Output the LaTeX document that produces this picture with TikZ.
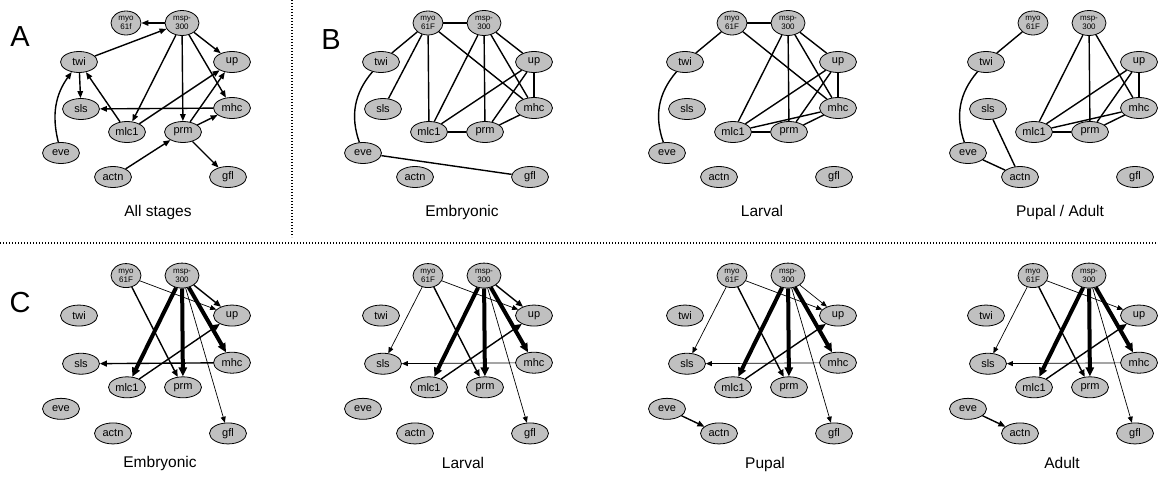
\documentclass[tikz,border=0pt]{standalone}
\usepackage{fontspec}
\setmainfont{Liberation Sans}
\usetikzlibrary{shapes.geometric,arrows.meta}
\definecolor{nodegray}{HTML}{C0C0C0}
\tikzset{
 gn/.style={ellipse, draw, fill=nodegray, line width=0.8pt, minimum width=37pt, minimum height=21pt, inner sep=0pt, font=\fontsize{11}{12}\selectfont},
 gs/.style={gn, minimum width=30pt, minimum height=24pt, align=center, font=\fontsize{8}{9}\selectfont},
 ue/.style={line width=1.4pt},
 dbl/.style={line width=2.4pt},
 de/.style={line width=1.4pt, -{Triangle[length=7pt,width=5.5pt]}},
 thn/.style={line width=0.7pt, -{Triangle[length=6pt,width=5pt]}},
 med/.style={line width=1.4pt, -{Triangle[length=7pt,width=6pt]}},
 thk/.style={line width=4pt, -{Triangle[length=9pt,width=8pt]}},
 panel/.style={font=\fontsize{29}{31}\selectfont},
 stage/.style={font=\fontsize{15.5}{17}\selectfont, anchor=base},
 sep/.style={line width=1.4pt, dash pattern=on 1.4pt off 1.6pt}
}
\newcommand\mknodes[2]{%
 \node[gs] (#1myo) at (126,23) {myo\\#2};
 \node[gs, minimum width=34pt, minimum height=25pt] (#1msp) at (182,23) {msp-\\300};
 \node[gn] (#1twi) at (79,62) {twi};
 \node[gn] (#1up) at (232,62) {up};
 \node[gn] (#1sls) at (81,109) {sls};
 \node[gn] (#1mhc) at (232,108) {mhc};
 \node[gn] (#1mlc1) at (127,132) {mlc1};
 \node[gn] (#1prm) at (183,132) {prm};
 \node[gn] (#1eve) at (61,153) {eve};
 \node[gn] (#1actn) at (113,177) {actn};
 \node[gn] (#1gfl) at (228,177) {gfl};
}
\begin{document}
\begin{tikzpicture}[x=1pt,y=-1pt]
\useasboundingbox (0,0) rectangle (1158,480);
% separators
\draw[sep] (292,0) -- (292,237);
\draw[sep] (0,243) -- (1158,243);
% panel letters
\node[panel] (labA) at (20,37) {A};
\node[panel] (labB) at (331,40) {B};
\node[panel] (labC) at (20,303) {C};
% ---------- A ----------
\begin{scope}
 \mknodes{a}{61f}
 \draw[de] (amsp) -- (amyo);
 \draw[de] (atwi) -- (amsp);
 \draw[de] (amsp) -- (aup);
 \draw[de] (amsp) -- (amhc);
 \draw[de] (amsp) -- (amlc1);
 \draw[de] (amsp) -- (aprm);
 \draw[de] (atwi) -- (asls);
 \draw[de] (amlc1) -- (atwi);
 \draw[de] (aeve) to[bend left=25] (atwi);
 \draw[de] (amhc) -- (asls);
 \draw[de] (amlc1) -- (aup);
 \draw[de] (aprm) -- (aup);
 \draw[de] (aprm) -- (amhc);
 \draw[de] (aprm) -- (agfl);
 \draw[de] (aactn) -- (aprm);
 \node[stage] (tA) at (158,216) {All stages};
\end{scope}
% ---------- B embryonic ----------
\begin{scope}[shift={(302,0)}]
 \mknodes{b}{61F}
 \draw[ue] (bmyo) -- (bmsp);
 \draw[ue] (bmyo) -- (btwi);
 \draw[ue] (bmyo) -- (bsls);
 \draw[ue] (bmyo) -- (bmlc1);
 \draw[ue] (bmyo) -- (bmhc);
 \draw[ue] (bmsp) -- (bmlc1);
 \draw[ue] (bmsp) -- (bprm);
 \draw[ue] (bmsp) -- (bup);
 \draw[ue] (bmsp) -- (bmhc);
 \draw[ue] (bup) -- (bmhc);
 \draw[ue] (bup) -- (bmlc1);
 \draw[ue] (bup) -- (bprm);
 \draw[ue] (bmhc) -- (bprm);
 \draw[dbl] (bmlc1) -- (bprm);
 \draw[ue] (beve) to[bend left=30] (btwi);
 \draw[ue] (beve) -- (bgfl);
 \node[stage] (tB) at (160,216) {Embryonic};
\end{scope}
% ---------- B larval ----------
\begin{scope}[shift={(606,0)}]
 \mknodes{l}{61F}
 \draw[ue] (lmyo) -- (lmsp);
 \draw[ue] (lmyo) -- (ltwi);
 \draw[ue] (lmyo) -- (lmhc);
 \draw[ue] (lmsp) -- (lmlc1);
 \draw[ue] (lmsp) -- (lprm);
 \draw[ue] (lmsp) -- (lup);
 \draw[ue] (lmsp) -- (lmhc);
 \draw[ue] (lup) -- (lmhc);
 \draw[ue] (lup) -- (lmlc1);
 \draw[ue] (lup) -- (lprm);
 \draw[ue] (lmhc) -- (lmlc1);
 \draw[ue] (lmhc) -- (lprm);
 \draw[dbl] (lmlc1) -- (lprm);
 \draw[ue] (leve) to[bend left=30] (ltwi);
 \node[stage] (tL) at (156,216) {Larval};
\end{scope}
% ---------- B pupal / adult ----------
\begin{scope}[shift={(907,0)}]
 \mknodes{p}{61F}
 \draw[ue] (pmyo) -- (ptwi);
 \draw[ue] (pmsp) -- (pmlc1);
 \draw[ue] (pmsp) -- (pprm);
 \draw[ue] (pmsp) -- (pmhc);
 \draw[ue] (pup) -- (pmhc);
 \draw[ue] (pup) -- (pmlc1);
 \draw[ue] (pup) -- (pprm);
 \draw[ue] (pmhc) -- (pmlc1);
 \draw[ue] (pmhc) -- (pprm);
 \draw[dbl] (pmlc1) -- (pprm);
 \draw[ue] (peve) to[bend left=30] (ptwi);
 \draw[ue] (psls) -- (pactn);
 \draw[ue] (peve) -- (pactn);
 \node[stage] (tP) at (153,216) {Pupal / Adult};
\end{scope}
% ---------- C embryonic ----------
\begin{scope}[shift={(0,252)}, yscale=1.025]
 \mknodes{e}{61F}
 \draw[thn] (emyo) -- (eup);
 \draw[med] (emyo) -- (eprm);
 \draw[med] (emsp) -- (eup);
 \draw[thk] (emsp) -- (emlc1);
 \draw[thk] (emsp) -- (eprm);
 \draw[thk] (emsp) -- (emhc);
 \draw[thn] (emsp) -- (egfl);
 \draw[med] (emhc) -- (esls);
 \draw[med] (emlc1) -- (eup);
\end{scope}
\node[stage] (tCE) at (160,467) {Embryonic};
% ---------- C larval ----------
\begin{scope}[shift={(302,252)}, yscale=1.025]
 \mknodes{r}{61F}
 \draw[thn] (rmyo) -- (rup);
 \draw[thn] (rmyo) -- (rsls);
 \draw[med] (rmyo) -- (rprm);
 \draw[med] (rmsp) -- (rup);
 \draw[thk] (rmsp) -- (rmlc1);
 \draw[thk] (rmsp) -- (rprm);
 \draw[thk] (rmsp) -- (rmhc);
 \draw[thn] (rmsp) -- (rgfl);
 \draw[thn] (rmhc) -- (rsls);
 \draw[med] (rmlc1) -- (rup);
\end{scope}
\node[stage] (tCL) at (463,468) {Larval};
% ---------- C pupal ----------
\begin{scope}[shift={(606,252)}, yscale=1.025]
 \mknodes{u}{61F}
 \draw[thn] (umyo) -- (uup);
 \draw[thn] (umyo) -- (usls);
 \draw[med] (umyo) -- (uprm);
 \draw[thn] (umsp) -- (uup);
 \draw[thk] (umsp) -- (umlc1);
 \draw[thk] (umsp) -- (uprm);
 \draw[thk] (umsp) -- (umhc);
 \draw[thn] (umsp) -- (ugfl);
 \draw[thn] (umhc) -- (usls);
 \draw[med] (umlc1) -- (uup);
 \draw[med] (ueve) -- (uactn);
\end{scope}
\node[stage] (tCP) at (765,468) {Pupal};
% ---------- C adult ----------
\begin{scope}[shift={(907,252)}, yscale=1.025]
 \mknodes{d}{61F}
 \draw[thn] (dmyo) -- (dup);
 \draw[thn] (dmyo) -- (dsls);
 \draw[med] (dmyo) -- (dprm);
 \draw[thk] (dmsp) -- (dmlc1);
 \draw[thk] (dmsp) -- (dprm);
 \draw[thk] (dmsp) -- (dmhc);
 \draw[thn] (dmsp) -- (dgfl);
 \draw[thn] (dmhc) -- (dsls);
 \draw[med] (dmlc1) -- (dup);
 \draw[med] (deve) -- (dactn);
\end{scope}
\node[stage] (tCA) at (1062,468) {Adult};
\end{tikzpicture}
\end{document}
